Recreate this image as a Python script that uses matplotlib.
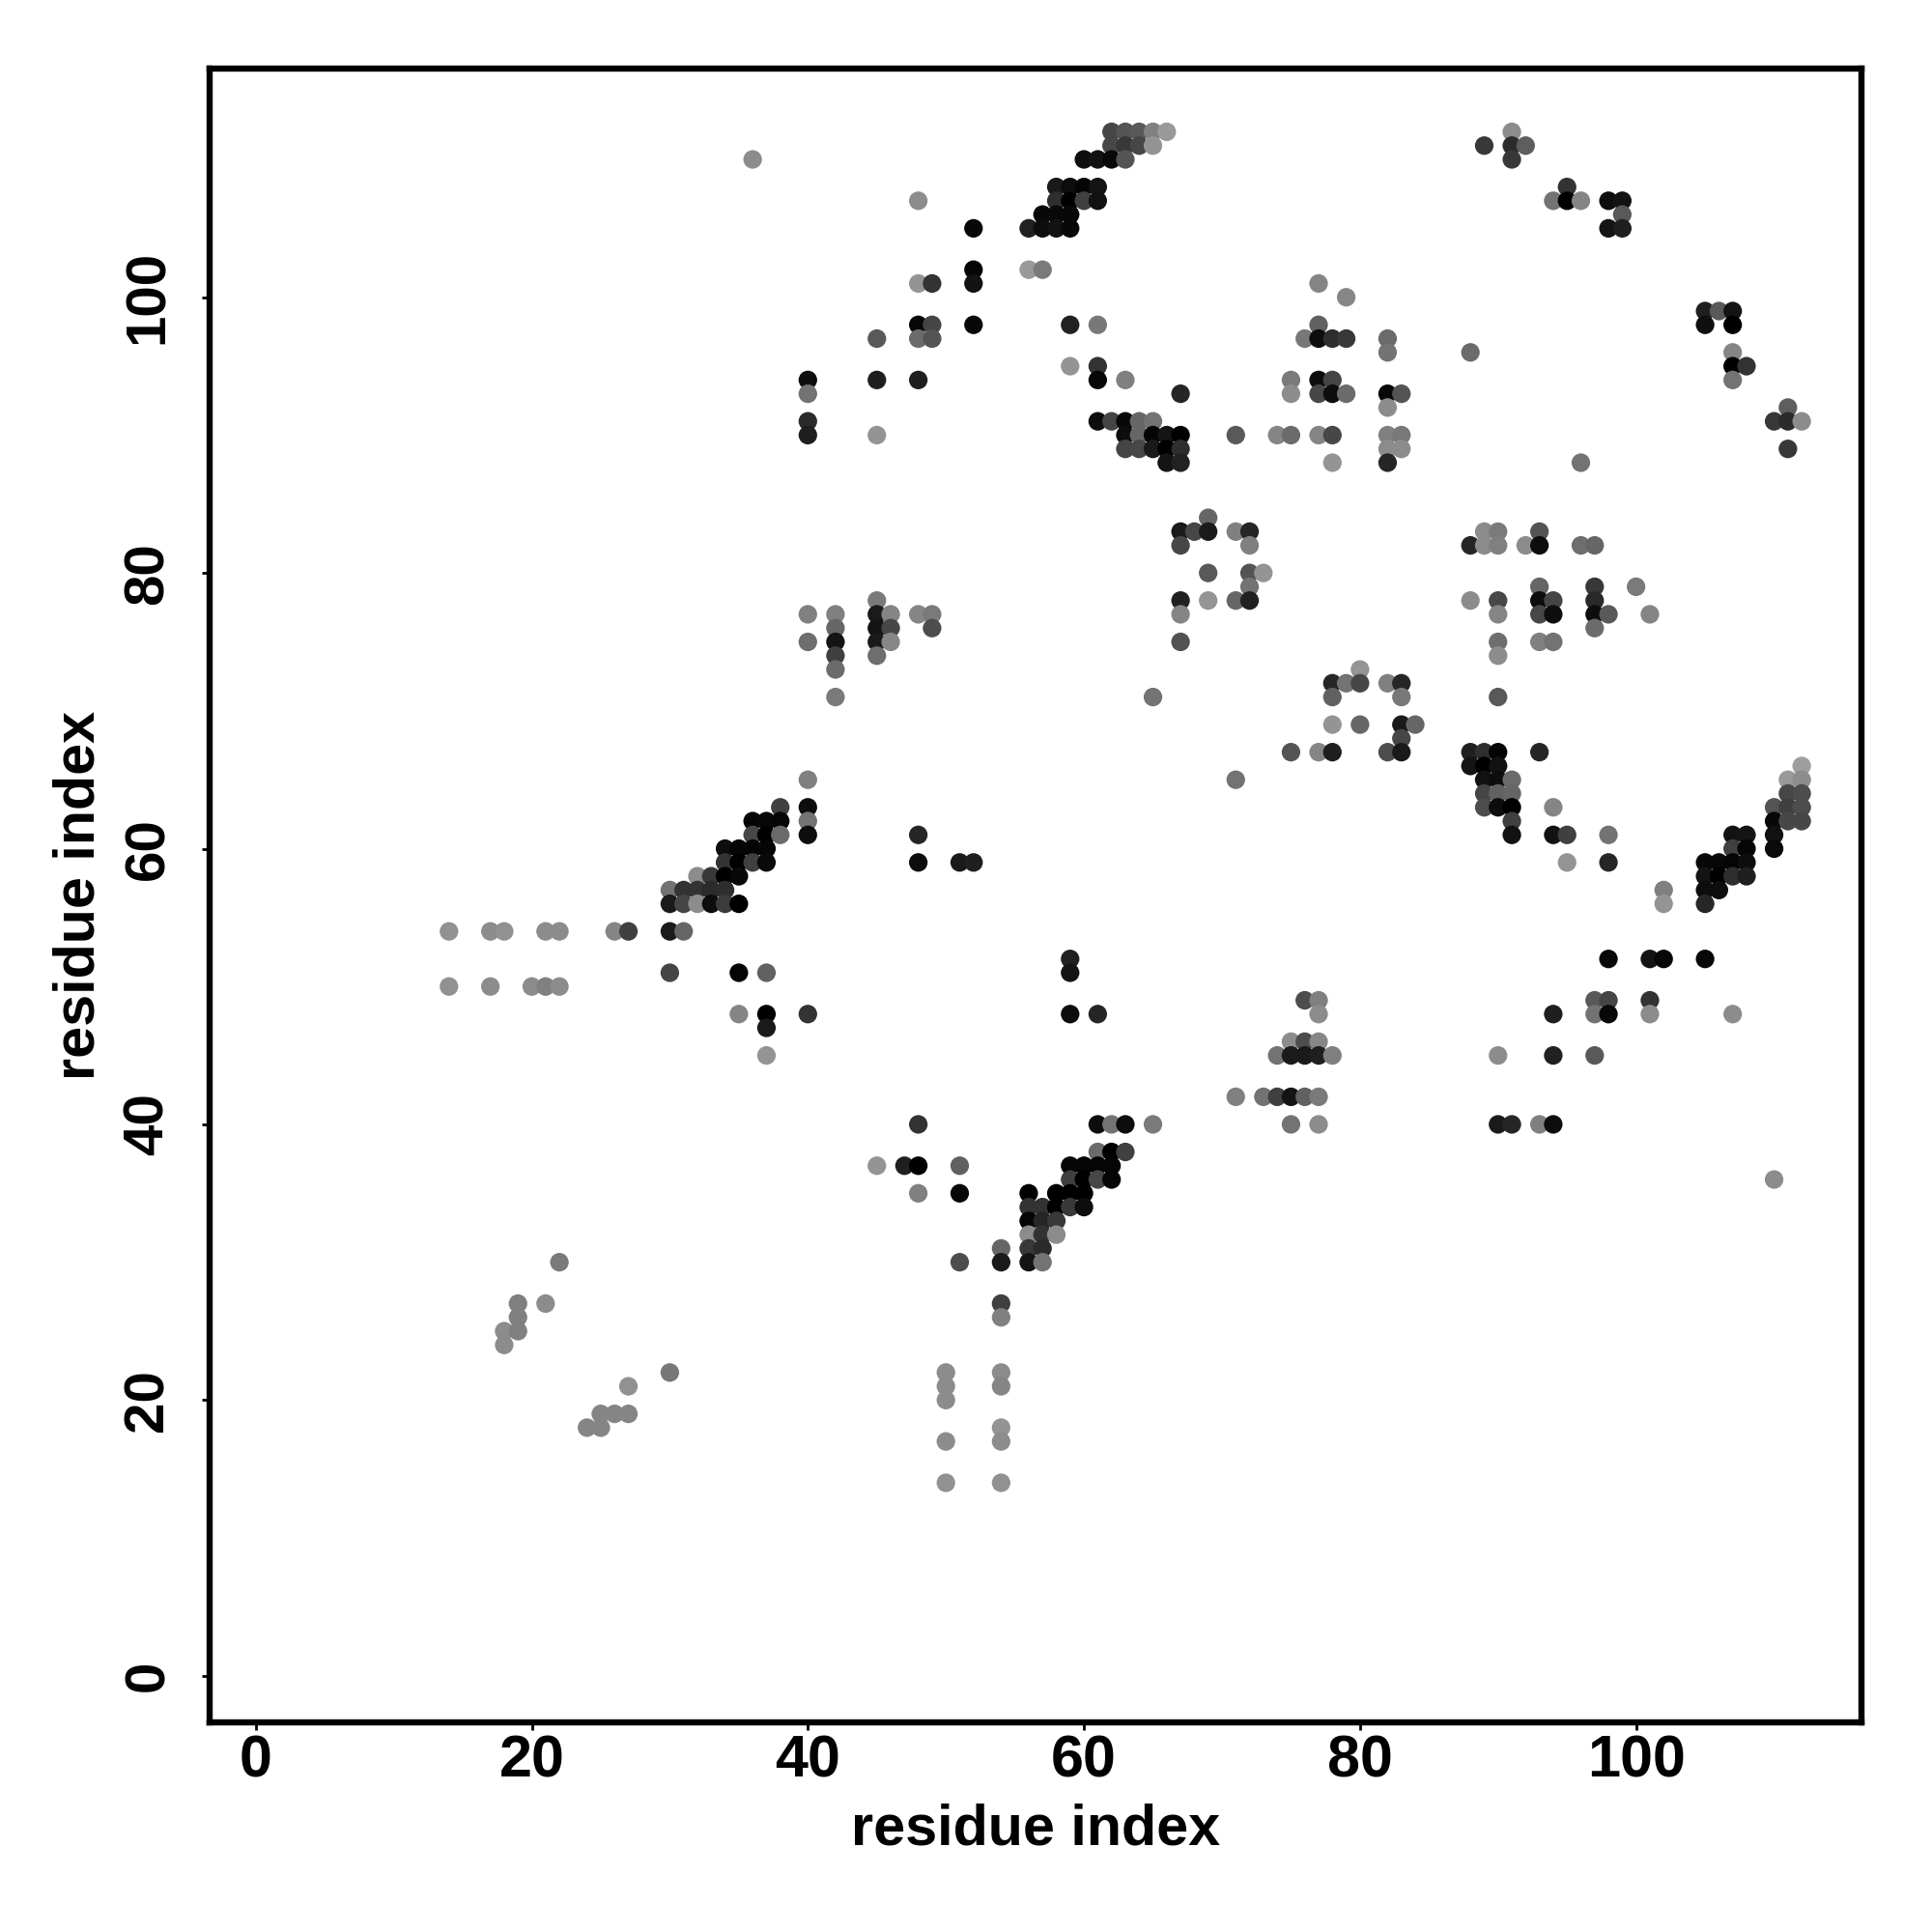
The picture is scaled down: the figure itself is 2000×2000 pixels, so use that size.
import numpy as np
import matplotlib
matplotlib.use('Agg')
import matplotlib.pyplot as plt

# contacts, one line per row of the map
row_y = [112, 111, 110, 108, 107, 106, 105, 102, 101, 100, 99, 98, 97, 96, 95, 94, 93, 92, 91, 90, 89, 88,
         84, 83, 82, 80, 79, 78, 77, 76, 75, 74, 73, 72, 71, 69, 68, 67, 66, 65, 64, 63, 62, 61, 60, 59, 58,
         57, 56, 54, 52, 51, 50, 49, 48, 47, 46, 45, 42, 40, 38, 37, 36, 35, 34, 33, 32, 31, 30, 27, 26, 25,
         24, 22, 21, 20, 19, 18, 17, 14]

row_x = [
    [62, 63, 64, 65, 66, 91],
    [62, 63, 64, 65, 89, 91, 92],
    [36, 60, 61, 62, 63, 91],
    [58, 59, 60, 61, 95],
    [48, 58, 59, 60, 61, 94, 95, 96, 98, 99],
    [57, 58, 59, 99],
    [52, 56, 57, 58, 59, 98, 99],
    [52, 56, 57],
    [48, 49, 52, 77],
    [79],
    [105, 106, 107],
    [48, 49, 52, 59, 61, 77, 105, 107],
    [45, 48, 49, 76, 77, 78, 79, 82],
    [82, 88, 107],
    [59, 61, 107, 108],
    [40, 45, 48, 61, 63, 75, 77, 78, 107],
    [40, 67, 75, 77, 78, 79, 82, 83],
    [82, 111],
    [40, 61, 62, 63, 64, 65, 110, 111, 112],
    [40, 45, 63, 64, 65, 66, 67, 71, 74, 75, 77, 78, 82, 83],
    [63, 64, 65, 66, 67, 82, 83, 111],
    [66, 67, 78, 82, 96],
    [69],
    [67, 68, 69, 71, 72, 89, 90, 93],
    [67, 72, 88, 89, 90, 92, 93, 96, 97],
    [69, 72, 73],
    [72, 93, 97, 100],
    [45, 67, 69, 71, 72, 88, 90, 93, 94, 97],
    [40, 42, 45, 46, 48, 49, 67, 90, 93, 94, 97, 98, 101],
    [42, 45, 46, 49, 97],
    [40, 42, 45, 46, 67, 90, 93, 94],
    [42, 45, 90],
    [42, 80],
    [78, 79, 80, 82, 83],
    [42, 65, 78, 83, 90],
    [78, 80, 83, 84],
    [83],
    [75, 77, 78, 82, 83, 88, 89, 90, 93],
    [88, 89, 90, 112],
    [40, 71, 89, 90, 91, 111, 112],
    [89, 90, 91, 111, 112],
    [38, 40, 89, 90, 91, 94, 110, 111, 112],
    [36, 37, 38, 40, 91, 110, 111, 112],
    [36, 37, 38, 40, 48, 91, 94, 95, 98, 107, 108, 110],
    [34, 35, 36, 37, 107, 108, 110],
    [34, 35, 36, 37, 48, 51, 52, 95, 98, 105, 106, 107, 108],
    [32, 33, 34, 35, 105, 106, 107, 108],
    [30, 31, 32, 33, 34, 102, 105, 106],
    [30, 31, 32, 33, 34, 35, 102, 105],
    [14, 17, 18, 21, 22, 26, 27, 30, 31],
    [59, 98, 101, 102, 105],
    [30, 35, 37, 59],
    [14, 17, 20, 21, 22],
    [76, 77, 97, 98, 101],
    [35, 37, 40, 59, 61, 77, 94, 97, 98, 101, 107],
    [37],
    [75, 76, 77],
    [37, 74, 75, 76, 77, 78, 90, 94, 97],
    [71, 73, 74, 75, 76, 77],
    [48, 61, 62, 63, 65, 75, 77, 90, 91, 93, 94],
    [61, 62, 63],
    [45, 47, 48, 51, 59, 60, 61, 62],
    [59, 60, 61, 62, 110],
    [48, 51, 56, 58, 59, 60],
    [56, 57, 58, 59, 60],
    [56, 57, 58],
    [56, 57, 58],
    [54, 56, 57],
    [22, 51, 54, 56, 57],
    [19, 21, 54],
    [19, 54],
    [18, 19],
    [18],
    [30, 50, 54],
    [27, 50, 54],
    [50],
    [25, 26, 27],
    [24, 25, 54],
    [50, 54],
    [50, 54],
]

# grey level of each dot (0 black, 1 white)
row_g = [
    [.28, .33, .35, .5, .6, .55],
    [.28, .22, .28, .58, .22, .17, .37],
    [.55, .05, .07, .03, .33, .22],
    [.1, .05, .02, .08, .2],
    [.55, .18, 0, .25, .07, .45, 0, .52, .05, .07],
    [.03, .03, .03, .35],
    [.03, .13, .05, .07, .03, .08, .12],
    [.02, .6, .48],
    [.58, .2, .07, .52],
    [.53],
    [.12, .35, .08],
    [.03, .27, .03, .13, .47, .38, .06, 0],
    [.35, .42, .33, .47, .05, .18, .22, .42],
    [.45, .42, .52],
    [.58, .2, 0, .2],
    [.05, .12, .12, .03, .5, .48, .05, .27, .45],
    [.45, .15, .55, .28, .05, .42, .03, .33],
    [.55, .37],
    [.17, .05, .27, .03, .4, .45, .22, .17, .55],
    [.12, .58, .05, .4, .02, .08, 0, .35, .52, .42, .52, .28, .5, .47],
    [.27, .28, .1, 0, .18, .55, .55, .22],
    [.08, .13, .58, .15, .45],
    [.4],
    [.1, .28, .1, .5, .15, .55, .48, .33],
    [.28, .5, .15, .55, .5, .55, .05, .43, .4],
    [.35, .33, .58],
    [.45, .4, .22, .48],
    [.48, .13, .58, .4, .13, .55, .28, .05, .27, .16],
    [.5, .5, .1, .52, .52, .48, .52, .52, .28, .05, .05, .35, .52],
    [.4, .08, .28, .3, .42],
    [.43, .08, .1, .53, .32, .43, .5, .45],
    [.25, .43, .55],
    [.42, .58],
    [.15, .45, .28, .5, .15],
    [.48, .45, .38, .47, .35],
    [.58, .4, .1, .4],
    [.28],
    [.33, .52, .12, .3, .1, .12, .18, .02, .15],
    [.08, 0, .07, .62],
    [.5, .45, .07, .05, .42, .6, .55],
    [.27, .38, .4, .28, .3],
    [.25, .05, .3, .05, 0, .52, .33, .25, .3],
    [.02, .03, .02, .45, .25, .03, .28, .28],
    [.28, 0, .42, .05, .15, .07, .07, .25, .45, .07, .08, .07],
    [.05, .02, .02, .02, .25, .02, .04],
    [.2, 0, .25, .04, .05, .1, .12, .58, .15, .03, .03, .02, .05],
    [.55, .22, 0, .03, .08, 0, .18, .12],
    [.45, .2, .2, .17, .18, .5, .05, .05],
    [.1, .27, .55, .05, .23, 0, .58, .15],
    [.57, .55, .57, .55, .55, .52, .25, .1, .4],
    [.13, .03, .08, .03, .03],
    [.27, .02, .38, .08],
    [.57, .55, .55, .5, .55],
    [.3, .5, .35, .27, .2],
    [.52, 0, .2, .05, .15, .55, .12, .45, .03, .55, .55],
    [.1],
    [.55, .3, .53],
    [.58, .45, .1, .1, .12, .5, .55, .13, .35],
    [.5, .45, .25, .08, .38, .48],
    [.2, .05, .45, .05, .48, .45, .55, .1, .15, .5, .05],
    [.42, 0, .25],
    [.58, .12, 0, .38, .02, .02, .02, .02],
    [.25, 0, .28, .02, .55],
    [.5, .03, 0, 0, 0, 0],
    [.2, .2, 0, .22, .05],
    [.02, .15, .22],
    [.55, .2, .55],
    [.4, .22, .17],
    [.48, .3, .1, .08, .45],
    [.5, .55, .25],
    [.5, .5],
    [.55, .5],
    [.55],
    [.47, .55, .55],
    [.57, .55, .52],
    [.55],
    [.52, .52, .52],
    [.52, .52, .58],
    [.55, .55],
    [.57, .57],
]

ticks = [0, 20, 40, 60, 80, 100]

x = np.concatenate(row_x)
y = np.concatenate([[v] * len(r) for v, r in zip(row_y, row_x)])
g = np.concatenate(row_g)

# columns left to right, top down inside a column, later dots sit on top
order = np.lexsort((-y, x))
x, y, g = x[order], y[order], g[order]

plt.rcParams['font.family'] = ['Liberation Sans', 'DejaVu Sans']
plt.rcParams['font.weight'] = 'bold'

fig = plt.figure(figsize=(10, 10), dpi=200)
ax = fig.add_axes([0.1085, 0.1085, 0.855, 0.8558])
ax.scatter(x, y, s=48, c=[str(v) for v in g], linewidths=0, zorder=3)

ax.set_xlim(-3.34, 116.33)
ax.set_ylim(-3.38, 116.56)
ax.set_xticks(ticks)
ax.set_yticks(ticks)
ax.tick_params(axis='x', length=3, width=1, labelsize=22, pad=1.5)
ax.tick_params(axis='y', length=3, width=1, labelsize=21, pad=10)
plt.setp(ax.get_yticklabels(), rotation=90, va='center')
for s in ax.spines.values():
    s.set_linewidth(2.3)

ax.set_xlabel('residue index', fontsize=21.4, fontweight='bold', labelpad=5)
ax.set_ylabel('residue index', fontsize=21.4, fontweight='bold')
ax.yaxis.set_label_coords(-0.0626, 0.5)

fig.savefig('out.png', dpi=200)
